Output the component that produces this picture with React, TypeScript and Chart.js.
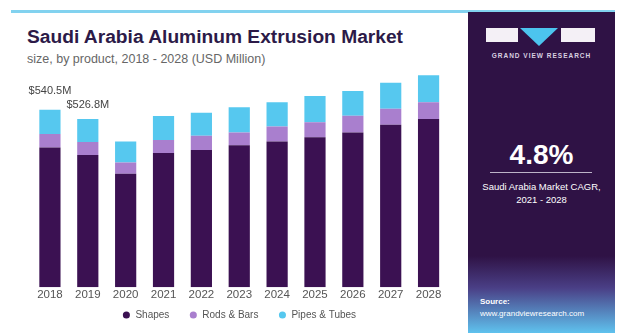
import React, { useEffect, useRef } from "react";
import { Chart, registerables } from "chart.js";

Chart.register(...registerables);

const years = ["2018", "2019", "2020", "2021", "2022", "2023", "2024", "2025", "2026", "2027", "2028"];
const shapes = [426, 403, 346, 409, 418, 433, 444, 457, 472, 495, 513];
const rodsBars = [41, 40, 34, 40, 44, 39, 46, 46, 51, 49, 51];
const pipesTubes = [74, 70, 64, 73, 70, 77, 74, 80, 75, 79, 82];
const valueLabels = ["$540.5M", "$526.8M"];
const labelOffsets = [19, 14];

const FONT = "'Liberation Sans', Arial, sans-serif";

const labelPlugin = {
  id: "valueLabels",
  afterLayout(chart: any) {
    // pull the legend closer to the category axis (smaller gap than its item padding)
    const L = chart.legend;
    const xs = chart.scales.x;
    if (L && xs) {
      const d = L.top - (xs.bottom - 13);
      L.top -= d;
      L.bottom -= d;
    }
  },
  afterDatasetsDraw(chart: any) {
    const { ctx, scales } = chart;
    ctx.save();
    ctx.font = `11px ${FONT}`;
    ctx.fillStyle = "#444";
    ctx.textAlign = "center";
    ctx.textBaseline = "middle";
    valueLabels.forEach((txt, i) => {
      const total = shapes[i] + rodsBars[i] + pipesTubes[i];
      const x = scales.x.getPixelForValue(i);
      const y = scales.y.getPixelForValue(total) - labelOffsets[i];
      ctx.fillText(txt, x, y);
    });
    ctx.restore();
  },
};

function BarChart() {
  const ref = useRef<HTMLCanvasElement>(null);
  useEffect(() => {
    if (!ref.current) return;
    const chart = new Chart(ref.current, {
      type: "bar",
      data: {
        labels: years,
        datasets: [
          { label: "Shapes", data: shapes, backgroundColor: "#3b1152" },
          { label: "Rods & Bars", data: rodsBars, backgroundColor: "#a97fce" },
          { label: "Pipes & Tubes", data: pipesTubes, backgroundColor: "#56c8ef" },
        ],
      },
      options: {
        animation: false,
        responsive: true,
        maintainAspectRatio: false,
        datasets: { bar: { barPercentage: 0.56, categoryPercentage: 1 } },
        layout: { padding: { left: 20, right: 18.5, top: 14, bottom: 0 } },
        scales: {
          x: {
            stacked: true,
            grid: { display: false, drawTicks: false },
            border: { display: false },
            ticks: { color: "#555", font: { family: FONT, size: 11.5 }, padding: 1 },
          },
          y: {
            stacked: true,
            display: false,
            min: 0,
            max: 650,
          },
        },
        plugins: {
          legend: {
            position: "bottom",
            labels: {
              usePointStyle: true,
              pointStyle: "circle",
              boxWidth: 8,
              boxHeight: 5,
              padding: 20,
              color: "#555",
              font: { family: FONT, size: 10 },
            },
          },
          tooltip: { enabled: false },
        },
      },
      plugins: [labelPlugin],
    });
    return () => chart.destroy();
  }, []);
  return <canvas ref={ref} />;
}

export default function App() {
  const abs = (s: React.CSSProperties): React.CSSProperties => ({ position: "absolute", ...s });
  return (
    <div style={abs({ left: 0, top: 0, width: 619, height: 334, background: "#fff", fontFamily: FONT, overflow: "hidden" })}>
      {/* top cyan line */}
      <div style={abs({ left: 11, top: 10, width: 604, height: 3, background: "#82d2ef" })} />
      {/* title */}
      <div style={abs({ left: 27, top: 26, fontSize: 19.2, fontWeight: 700, color: "#2c1a48", whiteSpace: "nowrap" })}>
        Saudi Arabia Aluminum Extrusion Market
      </div>
      <div style={abs({ left: 27, top: 52, fontSize: 12.5, color: "#666", whiteSpace: "nowrap" })}>
        size, by product, 2018 - 2028 (USD Million)
      </div>
      {/* chart */}
      <div style={abs({ left: 11, top: 60, width: 455, height: 283 })}>
        <BarChart />
      </div>
      {/* right panel */}
      <div
        style={abs({
          left: 468,
          top: 12,
          width: 147,
          height: 321,
          background: "linear-gradient(to bottom, #2f1245 0%, #2f1245 76%, #4a3f86 86%, #5fc2ee 100%)",
        })}
      >
        <div style={abs({ left: 18, top: 16, width: 32, height: 14, background: "#f4f0f6" })} />
        <div
          style={abs({
            left: 52,
            top: 16,
            width: 0,
            height: 0,
            borderLeft: "19px solid transparent",
            borderRight: "19px solid transparent",
            borderTop: "18px solid #4cc4ee",
          })}
        />
        <div style={abs({ left: 93, top: 16, width: 34, height: 14, background: "#f4f0f6" })} />
        <div style={abs({ left: 0, top: 40, width: 147, textAlign: "center", fontSize: 6.5, fontWeight: 700, letterSpacing: 1, color: "#d8d0e0" })}>
          GRAND VIEW RESEARCH
        </div>
        <div style={abs({ left: 0, top: 127, width: 147, textAlign: "center", fontSize: 28, fontWeight: 700, color: "#fff" })}>4.8%</div>
        <div style={abs({ left: 22, top: 160, width: 102, height: 1, background: "#bdb3c8" })} />
        <div style={abs({ left: 0, top: 168, width: 147, textAlign: "center", fontSize: 9.5, lineHeight: "13px", color: "#fff" })}>
          Saudi Arabia Market CAGR,
          <br />
          2021 - 2028
        </div>
        <div style={abs({ left: 12, top: 285, fontSize: 8, fontWeight: 700, color: "#fff" })}>Source:</div>
        <div style={abs({ left: 12, top: 297, fontSize: 8, color: "#fff", whiteSpace: "nowrap" })}>www.grandviewresearch.com</div>
      </div>
    </div>
  );
}
